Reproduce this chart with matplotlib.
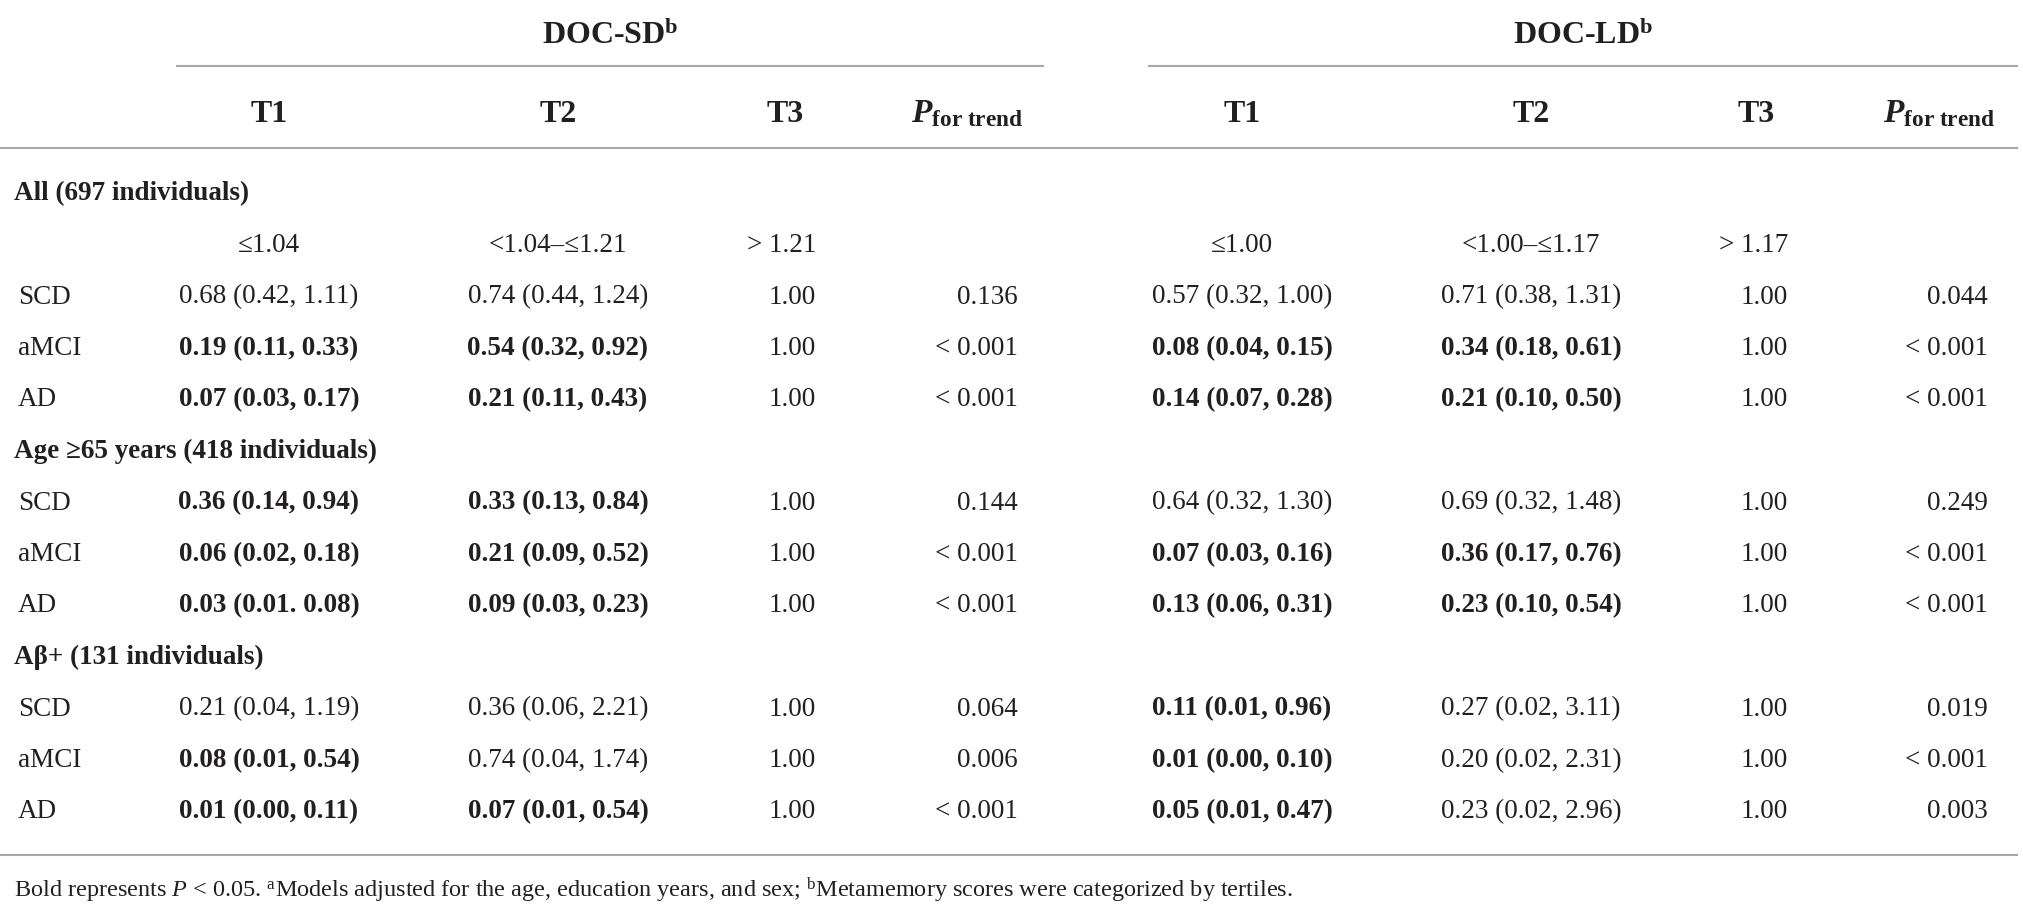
import matplotlib
matplotlib.use("Agg")
import matplotlib.pyplot as plt

# table content
groups = ["DOC-SD", "DOC-LD"]
col_heads = ["T1", "T2", "T3"]

sections = ["All (697 individuals)", "Age \u226565 years (418 individuals)", "A\u03b2+ (131 individuals)"]
outcomes = ["SCD", "aMCI", "AD"]

cuts_sd = ["\u22641.04", "<1.04\u2013\u22641.21", "> 1.21"]
cuts_ld = ["\u22641.00", "<1.00\u2013\u22641.17", "> 1.17"]

# odds ratios (95% CI) per section, rows SCD/aMCI/AD
sd_t1 = [["0.68 (0.42, 1.11)", "0.19 (0.11, 0.33)", "0.07 (0.03, 0.17)"],
         ["0.36 (0.14, 0.94)", "0.06 (0.02, 0.18)", "0.03 (0.01. 0.08)"],
         ["0.21 (0.04, 1.19)", "0.08 (0.01, 0.54)", "0.01 (0.00, 0.11)"]]
sd_t2 = [["0.74 (0.44, 1.24)", "0.54 (0.32, 0.92)", "0.21 (0.11, 0.43)"],
         ["0.33 (0.13, 0.84)", "0.21 (0.09, 0.52)", "0.09 (0.03, 0.23)"],
         ["0.36 (0.06, 2.21)", "0.74 (0.04, 1.74)", "0.07 (0.01, 0.54)"]]
sd_p = [["0.136", "< 0.001", "< 0.001"],
        ["0.144", "< 0.001", "< 0.001"],
        ["0.064", "0.006", "< 0.001"]]
ld_t1 = [["0.57 (0.32, 1.00)", "0.08 (0.04, 0.15)", "0.14 (0.07, 0.28)"],
         ["0.64 (0.32, 1.30)", "0.07 (0.03, 0.16)", "0.13 (0.06, 0.31)"],
         ["0.11 (0.01, 0.96)", "0.01 (0.00, 0.10)", "0.05 (0.01, 0.47)"]]
ld_t2 = [["0.71 (0.38, 1.31)", "0.34 (0.18, 0.61)", "0.21 (0.10, 0.50)"],
         ["0.69 (0.32, 1.48)", "0.36 (0.17, 0.76)", "0.23 (0.10, 0.54)"],
         ["0.27 (0.02, 3.11)", "0.20 (0.02, 2.31)", "0.23 (0.02, 2.96)"]]
ld_p = [["0.044", "< 0.001", "< 0.001"],
        ["0.249", "< 0.001", "< 0.001"],
        ["0.019", "< 0.001", "0.003"]]
t3_ref = "1.00"

# significance (bold) flags, same shape
sd_t1_bold = [[0, 1, 1], [1, 1, 1], [0, 1, 1]]
sd_t2_bold = [[0, 1, 1], [1, 1, 1], [0, 0, 1]]
ld_t1_bold = [[0, 1, 1], [0, 1, 1], [1, 1, 1]]
ld_t2_bold = [[0, 1, 1], [0, 1, 1], [0, 0, 0]]

footnote = ("Bold represents $\\mathit{P}$ < 0.05. $^{\\mathrm{a}}$Models adjusted for the age, "
            "education years, and sex; $^{\\mathrm{b}}$Metamemory scores were categorized by tertiles.")

plt.rcParams["font.family"] = ["Liberation Serif", "DejaVu Serif"]
plt.rcParams["mathtext.fontset"] = "custom"
plt.rcParams["mathtext.rm"] = "Liberation Serif"
plt.rcParams["mathtext.it"] = "Liberation Serif:italic"
plt.rcParams["mathtext.bf"] = "Liberation Serif:bold"
plt.rcParams["mathtext.bfit"] = "Liberation Serif:italic:bold"

ink = "#231f20"
rule = "#a6a6a6"
fs = 19.5
hfs = 23

fig = plt.figure(figsize=(20.24, 9.14), dpi=100)
ax = fig.add_axes([0, 0, 1, 1])
ax.set_xlim(0, 2024)
ax.set_ylim(914, 0)
ax.axis("off")

# layout (pixels)
blocks = [
    dict(title=groups[0], span=(177, 1043), t1=269, t2=558, t3=816, t3h=785, p=1018, ph=911,
         cuts=cuts_sd, c1=sd_t1, c2=sd_t2, b1=sd_t1_bold, b2=sd_t2_bold, pv=sd_p),
    dict(title=groups[1], span=(1149, 2017), t1=1242, t2=1531, t3=1788, t3h=1756, p=1988, ph=1883,
         cuts=cuts_ld, c1=ld_t1, c2=ld_t2, b1=ld_t1_bold, b2=ld_t2_bold, pv=ld_p),
]
y0, pitch = 194, 51.5

for b in blocks:
    x0, x1 = b["span"]
    ax.text((x0 + x1) / 2, 36, b["title"] + "$^{\\mathbf{b}}$", ha="center", va="center",
            fontsize=hfs, fontweight="bold", color=ink)
    ax.plot([x0, x1], [66, 66], color=rule, lw=1.5)
    ax.text(b["t1"], 114, col_heads[0], ha="center", va="center", fontsize=hfs, fontweight="bold", color=ink)
    ax.text(b["t2"], 114, col_heads[1], ha="center", va="center", fontsize=hfs, fontweight="bold", color=ink)
    ax.text(b["t3h"], 114, col_heads[2], ha="center", va="center", fontsize=hfs, fontweight="bold", color=ink)
    ax.text(b["ph"], 114, "$\\mathbfit{P}_{\\mathbf{for\\ trend}}$", ha="left", va="center",
            fontsize=hfs + 1, color=ink)

    # cut-off row
    yc = y0 + pitch
    ax.text(b["t1"], yc, b["cuts"][0], ha="center", va="center", fontsize=fs, color=ink)
    ax.text(b["t2"], yc, b["cuts"][1], ha="center", va="center", fontsize=fs, color=ink)
    ax.text(b["t3"], yc, b["cuts"][2], ha="right", va="center", fontsize=fs, color=ink)

    for s in range(len(sections)):
        for r in range(len(outcomes)):
            row = 2 + s * 4 + r if s == 0 else 1 + s * 4 + r + 1
            y = y0 + pitch * row
            ax.text(b["t1"], y, b["c1"][s][r], ha="center", va="center", fontsize=fs, color=ink,
                    fontweight="bold" if b["b1"][s][r] else "normal")
            ax.text(b["t2"], y, b["c2"][s][r], ha="center", va="center", fontsize=fs, color=ink,
                    fontweight="bold" if b["b2"][s][r] else "normal")
            ax.text(b["t3"], y, t3_ref, ha="right", va="center", fontsize=fs, color=ink)
            ax.text(b["p"], y, b["pv"][s][r], ha="right", va="center", fontsize=fs, color=ink)

# row labels
for s, name in enumerate(sections):
    ys = y0 + pitch * (s * 4 + (0 if s == 0 else 1))
    ax.text(14, ys, name, ha="left", va="center", fontsize=fs, fontweight="bold", color=ink)
    first = ys + pitch * (2 if s == 0 else 1)
    for r, lab in enumerate(outcomes):
        ax.text(18, first + pitch * r, lab, ha="left", va="center", fontsize=fs, color=ink)

ax.plot([0, 2017], [148, 148], color=rule, lw=1.5)
ax.plot([0, 2017], [855, 855], color=rule, lw=1.5)
ax.text(14, 890, footnote, ha="left", va="center", fontsize=17.5, color=ink)

fig.savefig("out.png", dpi=100)
